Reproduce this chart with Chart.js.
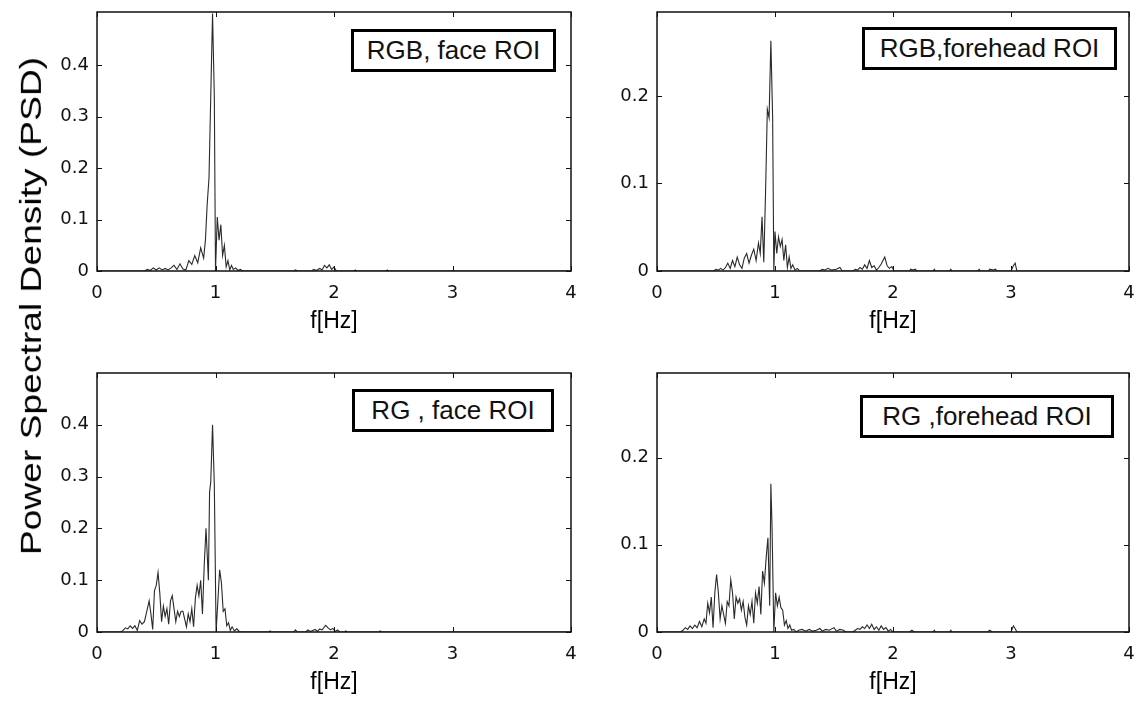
<!DOCTYPE html>
<html>
<head>
<meta charset="utf-8">
<script src="https://cdn.jsdelivr.net/npm/chart.js@4.4.0/dist/chart.umd.min.js"></script>
<style>
  html, body { margin: 0; padding: 0; background: #fff; }
  body { width: 1139px; height: 706px; position: relative; overflow: hidden; font-family: "Liberation Sans", Arial, sans-serif; }
  canvas { position: absolute; }
  .roi {
    position: absolute; box-sizing: border-box; border: 3px solid #000; background: #fff;
    display: flex; align-items: center; justify-content: center;
    font-size: 26px; color: #111; white-space: pre;
  }
  #ylab { position: absolute; left: 31px; top: 306px; width: 0; height: 0; display: flex; align-items: center; justify-content: center; }
  #ylab span { white-space: nowrap; font-size: 30px; color: #000; transform: rotate(-90deg) scaleX(1.24); }
</style>
</head>
<body>
<canvas id="c1" width="541" height="340" style="left:40px;top:0px"></canvas>
<canvas id="c2" width="539" height="340" style="left:600px;top:0px"></canvas>
<canvas id="c3" width="541" height="340" style="left:40px;top:361px"></canvas>
<canvas id="c4" width="539" height="340" style="left:600px;top:361px"></canvas>

<div class="roi" style="left:351px;top:29px;width:205px;height:43px">RGB, face ROI</div>
<div class="roi" style="left:862px;top:27px;width:255px;height:43px">RGB,forehead ROI</div>
<div class="roi" style="left:352px;top:389px;width:202px;height:43px">RG , face ROI</div>
<div class="roi" style="left:860px;top:395px;width:254px;height:43px">RG ,forehead ROI</div>
<div id="ylab"><span>Power Spectral Density (PSD)</span></div>

<script>
// x ticks (Hz) shared by all panels
const xTicks = [0, 1, 2, 3, 4];
const yTicksFace = [0, 0.1, 0.2, 0.3, 0.4];
const yTicksForehead = [0, 0.1, 0.2];

// RGB, face ROI
const freqRgbFace = [0, 0.40, 0.425, 0.45, 0.475, 0.50, 0.525, 0.55, 0.575, 0.60, 0.625, 0.65, 0.675, 0.70, 0.725, 0.75, 0.775, 0.80, 0.825, 0.85, 0.875, 0.90, 0.915, 0.93, 0.945, 0.96, 0.975, 0.99, 1.0, 1.015, 1.03, 1.045, 1.06, 1.075, 1.09, 1.105, 1.12, 1.135, 1.15, 1.17, 1.19, 1.21, 1.23, 1.66, 1.675, 1.69, 1.81, 1.83, 1.85, 1.88, 1.90, 1.92, 1.94, 1.96, 1.98, 2.0, 2.02, 2.17, 2.18, 2.19, 2.44, 2.45, 2.46, 4];
const psdRgbFace = [0, 0, 0.003, 0.001, 0.006, 0.002, 0.006, 0.002, 0.005, 0.002, 0.006, 0.011, 0.003, 0.014, 0.004, 0.002, 0.02, 0.013, 0.03, 0.016, 0.045, 0.025, 0.06, 0.13, 0.18, 0.34, 0.50, 0.34, 0.0, 0.105, 0.06, 0.09, 0.03, 0.05, 0.008, 0.02, 0.002, 0.011, 0.003, 0.006, 0.001, 0.003, 0, 0, 0.002, 0, 0, 0.003, 0.001, 0.005, 0.002, 0.011, 0.006, 0.012, 0.003, 0.008, 0, 0, 0.002, 0, 0, 0.002, 0, 0];

// RGB, forehead ROI
const freqRgbForehead = [0, 0.48, 0.50, 0.52, 0.54, 0.56, 0.58, 0.60, 0.62, 0.64, 0.66, 0.68, 0.70, 0.72, 0.74, 0.76, 0.78, 0.80, 0.82, 0.84, 0.86, 0.875, 0.89, 0.905, 0.92, 0.935, 0.95, 0.965, 0.98, 0.99, 1.0, 1.015, 1.03, 1.045, 1.06, 1.075, 1.09, 1.105, 1.12, 1.135, 1.15, 1.17, 1.19, 1.21, 1.38, 1.40, 1.42, 1.45, 1.48, 1.52, 1.55, 1.57, 1.66, 1.68, 1.70, 1.72, 1.74, 1.76, 1.78, 1.80, 1.82, 1.84, 1.86, 1.88, 1.90, 1.93, 1.95, 1.97, 1.99, 2.01, 2.14, 2.15, 2.17, 2.19, 2.2, 2.34, 2.35, 2.36, 2.48, 2.49, 2.5, 2.72, 2.73, 2.74, 2.81, 2.82, 2.85, 2.87, 2.88, 3.0, 3.02, 3.035, 3.05, 4];
const psdRgbForehead = [0, 0, 0.002, 0.001, 0.003, 0.001, 0.004, 0.009, 0.003, 0.012, 0.005, 0.016, 0.007, 0.003, 0.015, 0.02, 0.009, 0.018, 0.025, 0.012, 0.032, 0.02, 0.062, 0.01, 0.09, 0.185, 0.175, 0.263, 0.175, 0.0, 0.045, 0.02, 0.039, 0.028, 0.036, 0.012, 0.03, 0.004, 0.016, 0.003, 0.007, 0.001, 0.003, 0, 0, 0.002, 0.001, 0.003, 0.001, 0.002, 0.004, 0, 0, 0.002, 0.001, 0.004, 0.002, 0.007, 0.003, 0.012, 0.004, 0.006, 0.001, 0.004, 0.008, 0.016, 0.006, 0.003, 0.005, 0, 0, 0.002, 0.001, 0.002, 0, 0, 0.002, 0, 0, 0.002, 0, 0, 0.002, 0, 0, 0.002, 0.001, 0.002, 0, 0, 0.006, 0.009, 0, 0];

// RG, face ROI
const freqRgFace = [0, 0.20, 0.22, 0.24, 0.26, 0.28, 0.30, 0.32, 0.34, 0.36, 0.38, 0.40, 0.42, 0.44, 0.455, 0.47, 0.485, 0.50, 0.515, 0.53, 0.545, 0.56, 0.575, 0.59, 0.605, 0.62, 0.635, 0.65, 0.665, 0.68, 0.695, 0.71, 0.725, 0.74, 0.755, 0.77, 0.785, 0.80, 0.815, 0.83, 0.845, 0.86, 0.875, 0.89, 0.905, 0.92, 0.94, 0.95, 0.96, 0.975, 0.99, 1.005, 1.02, 1.035, 1.05, 1.065, 1.08, 1.095, 1.11, 1.125, 1.14, 1.16, 1.18, 1.20, 1.22, 1.45, 1.46, 1.47, 1.66, 1.675, 1.69, 1.76, 1.78, 1.80, 1.82, 1.84, 1.86, 1.88, 1.90, 1.93, 1.95, 1.97, 1.99, 2.01, 2.03, 2.05, 2.09, 2.1, 2.11, 2.38, 2.39, 2.4, 4];
const psdRgFace = [0, 0, 0.003, 0.008, 0.006, 0.012, 0.007, 0.012, 0.003, 0.022, 0.015, 0.02, 0.04, 0.06, 0.035, 0.005, 0.08, 0.09, 0.115, 0.075, 0.02, 0.05, 0.03, 0.045, 0.015, 0.06, 0.07, 0.045, 0.02, 0.04, 0.03, 0.04, 0.04, 0.025, 0.01, 0.035, 0.02, 0.045, 0.01, 0.065, 0.09, 0.07, 0.1, 0.035, 0.13, 0.2, 0.1, 0.27, 0.29, 0.40, 0.285, 0.0, 0.06, 0.12, 0.095, 0.04, 0.045, 0.012, 0.018, 0.003, 0.01, 0.002, 0.006, 0.001, 0, 0, 0.002, 0, 0, 0.004, 0, 0, 0.004, 0.001, 0.003, 0.005, 0.001, 0.006, 0.004, 0.013, 0.008, 0.004, 0.007, 0.001, 0.004, 0, 0, 0.002, 0, 0, 0.002, 0, 0];

// RG, forehead ROI
const freqRgForehead = [0, 0.20, 0.22, 0.24, 0.26, 0.28, 0.30, 0.32, 0.34, 0.36, 0.38, 0.40, 0.415, 0.43, 0.445, 0.46, 0.475, 0.49, 0.505, 0.52, 0.535, 0.55, 0.565, 0.58, 0.595, 0.61, 0.625, 0.64, 0.655, 0.67, 0.685, 0.70, 0.715, 0.73, 0.745, 0.76, 0.775, 0.79, 0.805, 0.82, 0.835, 0.85, 0.865, 0.88, 0.895, 0.91, 0.925, 0.94, 0.955, 0.965, 0.975, 0.99, 1.005, 1.02, 1.035, 1.05, 1.065, 1.08, 1.095, 1.11, 1.125, 1.14, 1.16, 1.18, 1.20, 1.23, 1.26, 1.29, 1.32, 1.35, 1.38, 1.40, 1.43, 1.46, 1.50, 1.52, 1.55, 1.58, 1.60, 1.66, 1.68, 1.70, 1.72, 1.74, 1.76, 1.78, 1.80, 1.82, 1.84, 1.86, 1.88, 1.90, 1.92, 1.94, 1.96, 1.98, 2.0, 2.14, 2.16, 2.18, 2.34, 2.35, 2.36, 2.48, 2.49, 2.5, 2.8, 2.82, 2.84, 3.0, 3.02, 3.035, 3.05, 4];
const psdRgForehead = [0, 0, 0.002, 0.005, 0.003, 0.007, 0.004, 0.008, 0.005, 0.012, 0.006, 0.015, 0.01, 0.033, 0.022, 0.04, 0.005, 0.045, 0.066, 0.045, 0.015, 0.03, 0.02, 0.01, 0.035, 0.03, 0.06, 0.045, 0.015, 0.04, 0.033, 0.038, 0.025, 0.035, 0.017, 0.008, 0.03, 0.02, 0.035, 0.01, 0.045, 0.033, 0.052, 0.02, 0.07, 0.056, 0.085, 0.108, 0.03, 0.17, 0.12, 0.0, 0.045, 0.03, 0.04, 0.028, 0.025, 0.008, 0.013, 0.004, 0.008, 0.002, 0.003, 0, 0.002, 0.003, 0.001, 0.003, 0.001, 0.002, 0.004, 0.001, 0.003, 0.002, 0.005, 0.001, 0.003, 0.002, 0, 0, 0.002, 0.004, 0.003, 0.006, 0.004, 0.008, 0.004, 0.009, 0.003, 0.006, 0.002, 0.007, 0.003, 0.005, 0.001, 0.003, 0, 0, 0.002, 0, 0, 0.002, 0, 0, 0.002, 0, 0, 0.002, 0, 0, 0.007, 0.004, 0, 0];

// box around the axes with small inward ticks, like the original figure
const boxTicks = {
    id: "boxTicks",
    afterDatasetsDraw(chart) {
        const { ctx, chartArea: a, scales } = chart;
        const x = scales.x, y = scales.y;
        const len = 5;
        ctx.save();
        ctx.strokeStyle = "#111";
        ctx.lineWidth = 1.5;
        ctx.strokeRect(a.left, a.top, a.right - a.left, a.bottom - a.top);
        ctx.lineWidth = 1;
        ctx.beginPath();
        x.ticks.forEach(t => {
            const px = Math.round(x.getPixelForValue(t.value)) + 0.5;
            ctx.moveTo(px, a.bottom); ctx.lineTo(px, a.bottom - len);
            ctx.moveTo(px, a.top); ctx.lineTo(px, a.top + len);
        });
        y.ticks.forEach(t => {
            const py = Math.round(y.getPixelForValue(t.value)) + 0.5;
            ctx.moveTo(a.left, py); ctx.lineTo(a.left + len, py);
            ctx.moveTo(a.right, py); ctx.lineTo(a.right - len, py);
        });
        ctx.stroke();
        ctx.restore();
    },
};

function makeChart(id, freq, psd, yMax, yTicks) {
    const points = freq.map((f, i) => ({ x: f, y: psd[i] }));
    return new Chart(document.getElementById(id), {
        type: "line",
        data: {
            datasets: [{
                data: points,
                borderColor: "#2a2a2a",
                borderWidth: 1.1,
                pointRadius: 0,
                tension: 0,
                fill: false,
            }],
        },
        options: {
            responsive: false,
            animation: false,
            events: [],
            layout: { padding: { top: 12, right: 10, left: 0, bottom: 0 } },
            plugins: { legend: { display: false }, tooltip: { enabled: false } },
            scales: {
                x: {
                    type: "linear",
                    min: 0,
                    max: 4,
                    afterBuildTicks: s => { s.ticks = xTicks.map(v => ({ value: v })); },
                    afterFit: s => { s.height = 69; s.paddingLeft = 0; s.paddingRight = 0; },
                    grid: { display: false, drawTicks: false },
                    border: { display: false },
                    ticks: {
                        color: "#111",
                        padding: 12,
                        maxRotation: 0,
                        font: { family: "DejaVu Sans", size: 18 },
                        callback: v => String(v),
                    },
                    title: {
                        display: true,
                        text: "f[Hz]",
                        color: "#000",
                        padding: { top: 0, bottom: 5 },
                        font: { family: "Liberation Sans", size: 23 },
                    },
                },
                y: {
                    min: 0,
                    max: yMax,
                    afterBuildTicks: s => { s.ticks = yTicks.map(v => ({ value: v })); },
                    afterFit: s => { s.width = 57; s.paddingTop = 0; s.paddingBottom = 0; },
                    grid: { display: false, drawTicks: false },
                    border: { display: false },
                    ticks: {
                        color: "#111",
                        padding: 8,
                        font: { family: "DejaVu Sans", size: 18 },
                        callback: v => String(v),
                    },
                },
            },
        },
        plugins: [boxTicks],
    });
}

makeChart("c1", freqRgbFace, psdRgbFace, 0.503, yTicksFace);
makeChart("c2", freqRgbForehead, psdRgbForehead, 0.296, yTicksForehead);
makeChart("c3", freqRgFace, psdRgFace, 0.5, yTicksFace);
makeChart("c4", freqRgForehead, psdRgForehead, 0.297, yTicksForehead);
</script>
</body>
</html>
